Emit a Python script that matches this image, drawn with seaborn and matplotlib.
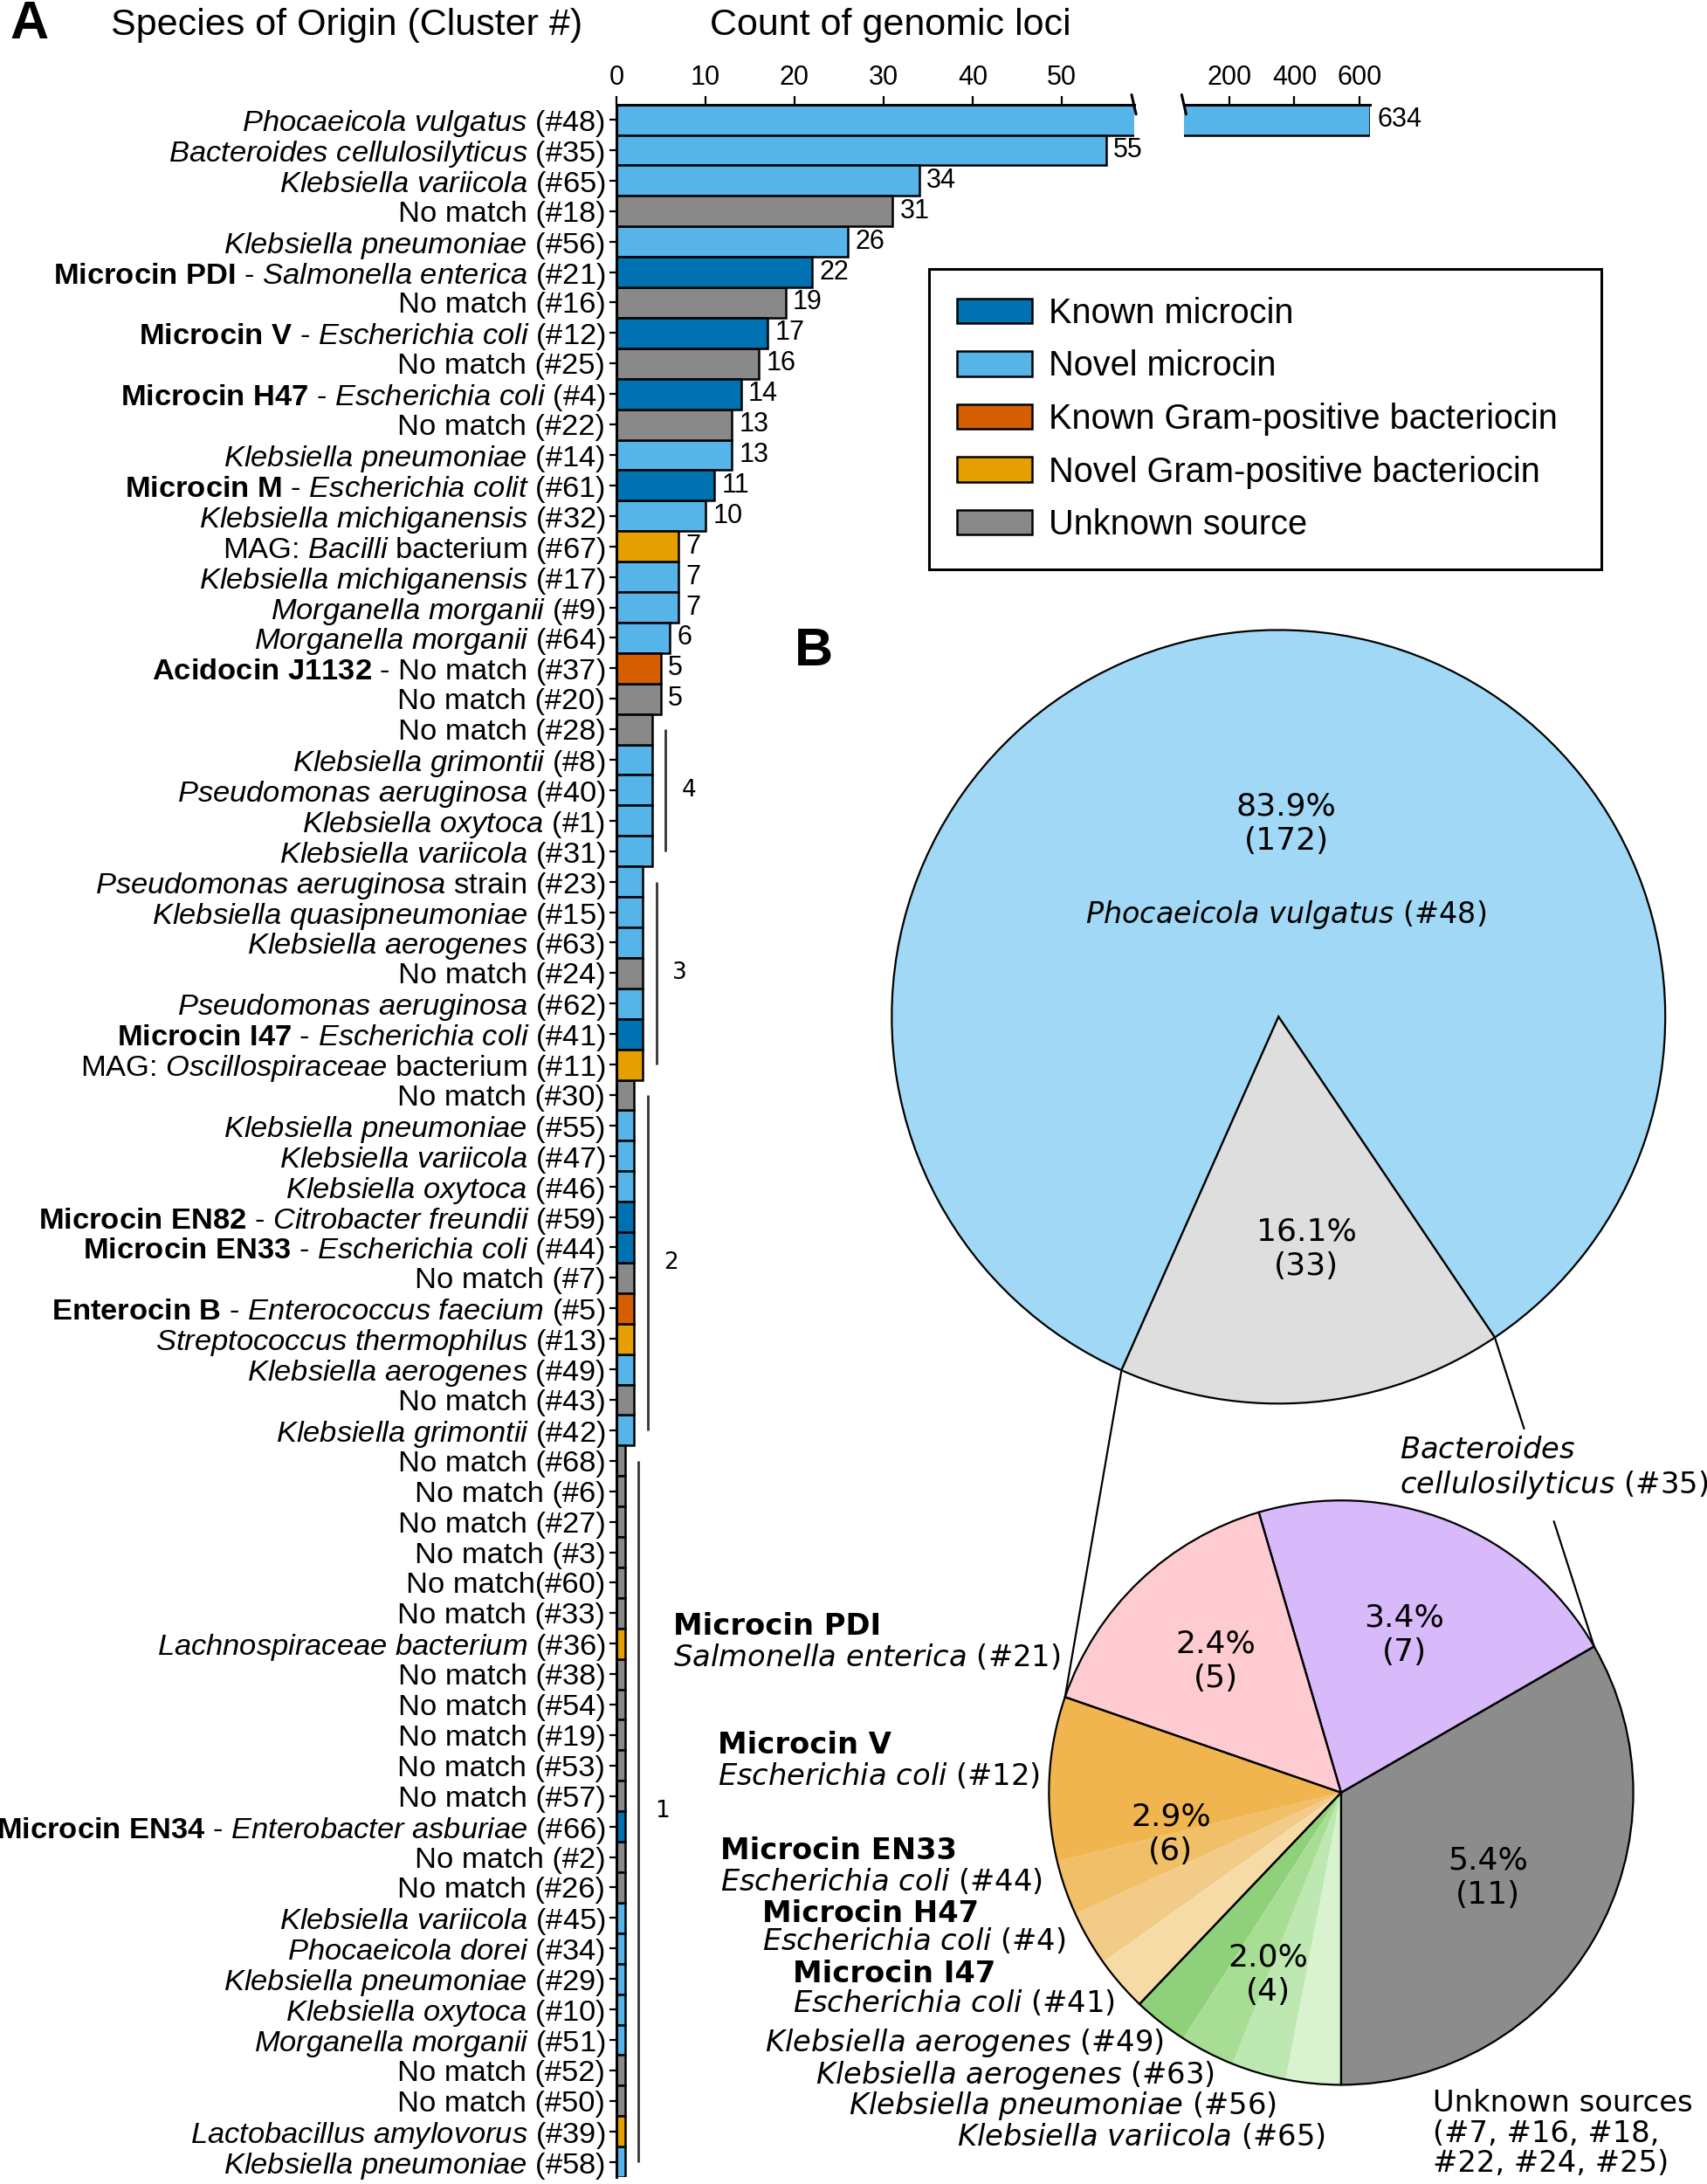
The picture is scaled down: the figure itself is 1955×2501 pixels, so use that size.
import re
import numpy as np
import pandas as pd
import matplotlib
matplotlib.use("Agg")
import matplotlib.pyplot as plt
import seaborn as sns
from matplotlib.patches import Patch
from matplotlib.lines import Line2D

# ---------------- data ----------------
# panel A: one row per cluster, top to bottom
species = [
    "*Phocaeicola vulgatus* (#48)",
    "*Bacteroides cellulosilyticus* (#35)",
    "*Klebsiella variicola* (#65)",
    "No match (#18)",
    "*Klebsiella pneumoniae* (#56)",
    "**Microcin PDI** - *Salmonella enterica* (#21)",
    "No match (#16)",
    "**Microcin V** - *Escherichia coli* (#12)",
    "No match (#25)",
    "**Microcin H47** - *Escherichia coli* (#4)",
    "No match (#22)",
    "*Klebsiella pneumoniae* (#14)",
    "**Microcin M** - *Escherichia colit* (#61)",
    "*Klebsiella michiganensis* (#32)",
    "MAG: *Bacilli* bacterium (#67)",
    "*Klebsiella michiganensis* (#17)",
    "*Morganella morganii* (#9)",
    "*Morganella morganii* (#64)",
    "**Acidocin J1132** - No match (#37)",
    "No match (#20)",
    "No match (#28)",
    "*Klebsiella grimontii* (#8)",
    "*Pseudomonas aeruginosa* (#40)",
    "*Klebsiella oxytoca* (#1)",
    "*Klebsiella variicola* (#31)",
    "*Pseudomonas aeruginosa* strain (#23)",
    "*Klebsiella quasipneumoniae* (#15)",
    "*Klebsiella aerogenes* (#63)",
    "No match (#24)",
    "*Pseudomonas aeruginosa* (#62)",
    "**Microcin I47** - *Escherichia coli* (#41)",
    "MAG: *Oscillospiraceae* bacterium (#11)",
    "No match (#30)",
    "*Klebsiella pneumoniae* (#55)",
    "*Klebsiella variicola* (#47)",
    "*Klebsiella oxytoca* (#46)",
    "**Microcin EN82** - *Citrobacter freundii* (#59)",
    "**Microcin EN33** - *Escherichia coli* (#44)",
    "No match (#7)",
    "**Enterocin B** - *Enterococcus faecium* (#5)",
    "*Streptococcus thermophilus* (#13)",
    "*Klebsiella aerogenes* (#49)",
    "No match (#43)",
    "*Klebsiella grimontii* (#42)",
    "No match (#68)",
    "No match (#6)",
    "No match (#27)",
    "No match (#3)",
    "No match(#60)",
    "No match (#33)",
    "*Lachnospiraceae bacterium* (#36)",
    "No match (#38)",
    "No match (#54)",
    "No match (#19)",
    "No match (#53)",
    "No match (#57)",
    "**Microcin EN34** - *Enterobacter asburiae* (#66)",
    "No match (#2)",
    "No match (#26)",
    "*Klebsiella variicola* (#45)",
    "*Phocaeicola dorei* (#34)",
    "*Klebsiella pneumoniae* (#29)",
    "*Klebsiella oxytoca* (#10)",
    "*Morganella morganii* (#51)",
    "No match (#52)",
    "No match (#50)",
    "*Lactobacillus amylovorus* (#39)",
    "*Klebsiella pneumoniae* (#58)",
]

counts = [634, 55, 34, 31, 26, 22, 19, 17, 16, 14, 13, 13, 11, 10, 7, 7, 7, 6, 5, 5,
          4, 4, 4, 4, 4,
          3, 3, 3, 3, 3, 3, 3,
          2, 2, 2, 2, 2, 2, 2, 2, 2, 2, 2, 2,
          1, 1, 1, 1, 1, 1, 1, 1, 1, 1, 1, 1, 1, 1, 1, 1, 1, 1, 1, 1, 1, 1, 1, 1]

# K known microcin, N novel microcin, KG known gram+, NG novel gram+, U unknown
sources = ["N", "N", "N", "U", "N", "K", "U", "K", "U", "K", "U", "N", "K", "N", "NG", "N", "N", "N", "KG", "U",
           "U", "N", "N", "N", "N",
           "N", "N", "N", "U", "N", "K", "NG",
           "U", "N", "N", "N", "K", "K", "U", "KG", "NG", "N", "U", "N",
           "U", "U", "U", "U", "U", "U", "NG", "U", "U", "U", "U", "U", "K", "U", "U",
           "N", "N", "N", "N", "N", "U", "U", "NG", "N"]

source_names = {"K": "Known microcin", "N": "Novel microcin",
                "KG": "Known Gram-positive bacteriocin",
                "NG": "Novel Gram-positive bacteriocin", "U": "Unknown source"}
source_colors = {"K": "#0072B2", "N": "#56B4E9", "KG": "#D55E00", "NG": "#E69F00", "U": "#898989"}

# panel B: big pie
big_counts = [172, 33]
big_colors = ["#A0D8F5", "#DEDEDE"]

# panel B: small pie (breakdown of the 33)
group_counts = [11, 7, 5, 6, 4]
sub_counts = [11, 7, 5, 3, 1, 1, 1, 1, 1, 1, 1]
sub_colors = ["#8C8C8C", "#D8B9FA", "#FECBD0",
              "#F0B54E", "#F1BF68", "#F3CB89", "#F7DBA7",
              "#8FD17A", "#A8DE94", "#BEE8B1", "#D9F3D0"]

# ---------------- style ----------------
sns.set_style("ticks")
plt.rcParams["font.family"] = ["Liberation Sans", "DejaVu Sans"]
plt.rcParams["mathtext.fontset"] = "custom"
plt.rcParams["mathtext.rm"] = "Liberation Sans"
plt.rcParams["mathtext.it"] = "Liberation Sans:italic"
plt.rcParams["mathtext.bf"] = "Liberation Sans:bold"
for k in ["text.color", "axes.labelcolor", "xtick.color", "ytick.color", "axes.edgecolor"]:
    plt.rcParams[k] = "black"


def fmt(s):
    # **bold** and *italic* -> mathtext
    s = re.sub(r"\*\*(.+?)\*\*", lambda m: r"$\mathbf{" + m.group(1).replace(" ", r"\ ") + "}$", s)
    s = re.sub(r"\*(.+?)\*", lambda m: r"$\mathit{" + m.group(1).replace(" ", r"\ ") + "}$", s)
    return s


# reference layout measured on a 1227 x 1568 view
RW, RH = 1227.0, 1568.0
def fx(x):
    return x / RW
def fy(y):
    return 1 - y / RH


fig = plt.figure(figsize=(19.55, 25.01), dpi=100)

# ---------------- panel A ----------------
df = pd.DataFrame({"label": [fmt(s) for s in species], "count": counts,
                   "source": sources})
n = len(df)
top, bot = 75, 1563
ax = fig.add_axes([fx(443), fy(bot), fx(815) - fx(443), (bot - top) / RH])
ax2 = fig.add_axes([fx(851), fy(bot), fx(985) - fx(851), (bot - top) / RH])

for a in (ax, ax2):
    sns.barplot(data=df, x="count", y="label", hue="source", palette=source_colors,
                order=df["label"], dodge=False, width=1.0, edgecolor="black",
                linewidth=1.8, saturation=1, legend=False, ax=a)
    a.set_ylim(n - 0.5, -0.5)
    a.set_xlabel("")
    a.set_ylabel("")
    a.xaxis.tick_top()
    a.tick_params(axis="x", labelsize=22, length=7, width=1.6, pad=4)
    for sp in ["right", "bottom"]:
        a.spines[sp].set_visible(False)
    a.spines["top"].set_linewidth(2.2)

ax.set_xlim(0, 58.1)
ax.set_xticks([0, 10, 20, 30, 40, 50])
ax.spines["left"].set_linewidth(2.2)
ax.tick_params(axis="y", labelsize=24.8, length=6, width=1.6, pad=3)

ax2.set_xlim(60, 634)
ax2.set_xticks([200, 400, 600])
ax2.spines["left"].set_visible(False)
ax2.set_yticks([])

# value labels for the larger clusters
for i, c in enumerate(counts):
    if c >= 5:
        target = ax2 if c > 58 else ax
        target.annotate(str(c), (c, i), xytext=(6, 0), textcoords="offset points",
                        ha="left", va="center", fontsize=22, annotation_clip=False)

# brackets for the small counts
for v in [4, 3, 2, 1]:
    idx = [i for i, c in enumerate(counts) if c == v]
    ax.plot([v + 1.5, v + 1.5], [idx[0], idx[-1]], color="#333333", lw=2.0,
            clip_on=False, solid_capstyle="butt")
    ax.text(v + 3.3, (idx[0] + idx[-1]) / 2, str(v), ha="left", va="center",
            fontsize=19, family="DejaVu Sans")

# axis break marks
for xb in (815, 851):
    fig.add_artist(Line2D([fx(xb - 1.6), fx(xb + 1.6)], [fy(68), fy(82)],
                          transform=fig.transFigure, color="black", lw=2.2))

fig.text(fx(7), fy(18), "A", fontsize=44, fontweight="bold", va="center", ha="left")
fig.text(fx(80), fy(18), "Species of Origin (Cluster #)", fontsize=31, va="center", ha="left")
fig.text(fx(510), fy(18), "Count of genomic loci", fontsize=31, va="center", ha="left")

handles = [Patch(facecolor=source_colors[k], edgecolor="black", linewidth=1.8,
                 label=source_names[k]) for k in ["K", "N", "KG", "NG", "U"]]
leg = fig.legend(handles=handles, loc="upper left",
                 bbox_to_anchor=(fx(668), fy(408), fx(1151) - fx(668), (408 - 193) / RH),
                 mode="expand", frameon=True, fancybox=False, edgecolor="black", framealpha=1,
                 fontsize=28.6, handlelength=2.15, handleheight=0.72, labelspacing=0.57,
                 borderpad=0.8, handletextpad=0.5, borderaxespad=0)
leg.get_frame().set_linewidth(2.2)

# ---------------- panel B ----------------
fig.text(fx(571), fy(468), "B", fontsize=44, fontweight="bold", va="center", ha="left")

pad = 1.08
bcx, bcy, br = 919, 730, 278
axb = fig.add_axes([fx(bcx - br * pad), fy(bcy + br * pad), 2 * br * pad / RW, 2 * br * pad / RH])
bw, _ = axb.pie(big_counts, colors=big_colors, startangle=304, counterclock=True,
                wedgeprops=dict(edgecolor="black", linewidth=1.6))
axb.set_xlim(-pad, pad)
axb.set_ylim(-pad, pad)
tot = sum(big_counts)
dv = dict(family="DejaVu Sans", math_fontfamily="dejavusans", ha="center", va="center")
axb.text(0.02, 0.5, f"{100 * big_counts[0] / tot:.1f}%\n({big_counts[0]})", fontsize=26, **dv)
axb.text(0.02, 0.263, fmt("*Phocaeicola vulgatus* (#48)"), fontsize=24, **dv)
axb.text(0.072, -0.6, f"{100 * big_counts[1] / tot:.1f}%\n({big_counts[1]})", fontsize=26, **dv)

scx, scy, sr = 964, 1287, 210
axc = fig.add_axes([fx(scx - sr * pad), fy(scy + sr * pad), 2 * sr * pad / RW, 2 * sr * pad / RH])
axc.pie(sub_counts, colors=sub_colors, startangle=-90, counterclock=True,
        wedgeprops=dict(linewidth=0, edgecolor="none"))
gw, _ = axc.pie(group_counts, colors=["none"] * len(group_counts), startangle=-90,
                counterclock=True, wedgeprops=dict(edgecolor="black", linewidth=1.6, fill=False))
axc.set_xlim(-pad, pad)
axc.set_ylim(-pad, pad)
for w, c, d in zip(gw, group_counts, [0.58, 0.58, 0.62, 0.6, 0.67]):
    mid = np.deg2rad((w.theta1 + w.theta2) / 2)
    axc.text(d * np.cos(mid), d * np.sin(mid), f"{100 * c / tot:.1f}%\n({c})",
             fontsize=26, **dv)

fig.canvas.draw()

# connector lines between the two pies
def pie_pt(a, ang):
    t = np.deg2rad(ang)
    p = a.transData.transform((np.cos(t), np.sin(t)))
    return fig.transFigure.inverted().transform(p)

pl0, pl1 = pie_pt(axb, bw[1].theta1), pie_pt(axc, gw[2].theta2)
pr0, pr1 = pie_pt(axb, bw[1].theta2), pie_pt(axc, gw[0].theta2)
fig.add_artist(Line2D([pl0[0], pl1[0]], [pl0[1], pl1[1]], transform=fig.transFigure,
                      color="black", lw=1.6))
for t0, t1 in [(0, 0.295), (0.595, 1)]:
    a0 = pr0 + (pr1 - pr0) * t0
    a1 = pr0 + (pr1 - pr0) * t1
    fig.add_artist(Line2D([a0[0], a1[0]], [a0[1], a1[1]], transform=fig.transFigure,
                          color="black", lw=1.6))

# labels around the small pie
tb = dict(family="DejaVu Sans", math_fontfamily="dejavusans", ha="left", va="center", fontsize=24.3)
pair_labels = [
    ("Microcin PDI", "*Salmonella enterica* (#21)", 484, 1168, 1190),
    ("Microcin V", "*Escherichia coli* (#12)", 516, 1253, 1275),
    ("Microcin EN33", "*Escherichia coli* (#44)", 518, 1329, 1351),
    ("Microcin H47", "*Escherichia coli* (#4)", 548, 1374, 1394),
    ("Microcin I47", "*Escherichia coli* (#41)", 570, 1417, 1438),
]
for b, s, x, y1, y2 in pair_labels:
    fig.text(fx(x), fy(y1), b, fontweight="bold", **tb)
    fig.text(fx(x), fy(y2), fmt(s), **tb)

single_labels = [
    ("*Klebsiella aerogenes* (#49)", 550, 1467),
    ("*Klebsiella aerogenes* (#63)", 586, 1490),
    ("*Klebsiella pneumoniae* (#56)", 610, 1512),
    ("*Klebsiella variicola* (#65)", 688, 1534),
    ("*Bacteroides*", 1006, 1041),
    ("*cellulosilyticus* (#35)", 1006, 1066),
    ("Unknown sources", 1030, 1510),
    ("(#7, #16, #18,", 1030, 1532),
    ("#22, #24, #25)", 1030, 1553),
]
for s, x, y in single_labels:
    fig.text(fx(x), fy(y), fmt(s), **tb)

fig.savefig("out.png", dpi=100)
